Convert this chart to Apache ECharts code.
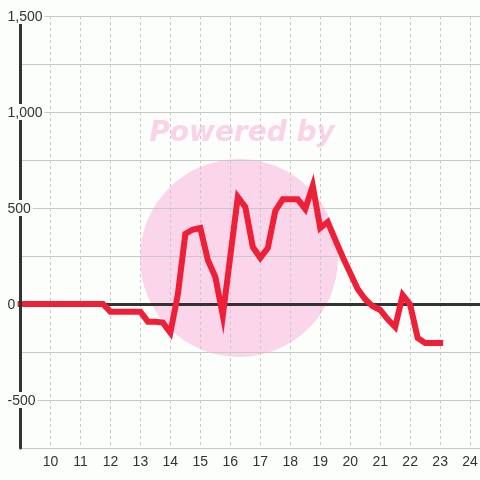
<!DOCTYPE html>
<html>
<head>
<meta charset="utf-8">
<script src="https://cdn.jsdelivr.net/npm/echarts@6/dist/echarts.min.js"></script>
<style>
html,body{margin:0;padding:0;background:#fcfefc;}
#chart{width:480px;height:480px;}
</style>
</head>
<body>
<div id="chart"></div>
<script>
var hours = [9.0, 9.25, 9.5, 9.75, 10.0, 10.25, 10.5, 10.75, 11.0, 11.25, 11.5, 11.75,
  12.0, 12.25, 12.5, 12.75, 13.0, 13.25, 13.5, 13.75, 14.0, 14.25, 14.5, 14.75,
  15.0, 15.25, 15.5, 15.75, 16.0, 16.25, 16.5, 16.75, 17.0, 17.25, 17.5, 17.75,
  18.0, 18.25, 18.5, 18.75, 19.0, 19.25, 19.5, 19.75, 20.0, 20.25, 20.5, 20.75,
  21.0, 21.25, 21.5, 21.75, 22.0, 22.25, 22.5, 22.75, 23.0];
var values = [0, 0, 0, 0, 0, 0, 0, 0, 0, 0, 0, 0,
  -40, -40, -40, -40, -40, -92, -92, -97, -150, 50, 365, 388,
  396, 229, 141, -60, 250, 557, 505, 297, 240, 292, 485, 545,
  545, 545, 495, 615, 396, 427, 335, 245, 161, 78, 25, -12,
  -31, -80, -120, 47, -3, -177, -203, -203, -203];
var xTickLabels = ['10','11','12','13','14','15','16','17','18','19','20','21','22','23','24'];
var yTickLabels = ['1,500','1,000','500','0','-500'];

var xMin = 9, xMax = 24.33, yMin = -750, yMax = 1500;

var data = hours.map(function (h, i) { return [h, values[i]]; });
var bg = '#fcfefc';

var chart = echarts.init(document.getElementById('chart'), null, {renderer: 'canvas'});
chart.setOption({
  backgroundColor: bg,
  animation: false,
  grid: {left: 20.5, right: 0, top: 16, bottom: 32, containLabel: false, outerBoundsMode: 'none'},
  graphic: [
    {type: 'circle', z: -5, shape: {cx: 239, cy: 258, r: 99}, style: {fill: '#fbd5ea'}, silent: true},
    {type: 'text', z: -5, x: 242, y: 134, style: {text: 'Powered by', fill: '#fbd3e9',
      font: 'italic bold 28px "DejaVu Sans", sans-serif', align: 'center', verticalAlign: 'middle'}, silent: true}
  ],
  xAxis: [
    {type: 'value', min: xMin, max: xMax, interval: 1, position: 'bottom',
      axisLine: {show: true, onZero: true, lineStyle: {color: '#333', width: 3}},
      axisTick: {show: false}, axisLabel: {show: false},
      splitLine: {show: true, lineStyle: {color: '#c8c8c8', width: 1, type: [3, 3]}}},
    {type: 'value', min: xMin, max: xMax, interval: 1, position: 'bottom',
      axisLine: {show: true, onZero: false, lineStyle: {color: '#c8c8c8', width: 1}},
      axisTick: {show: false}, splitLine: {show: false},
      axisLabel: {show: true, margin: 7, color: '#333', fontSize: 14, fontFamily: '"Liberation Sans", Arial, sans-serif',
        showMinLabel: true, showMaxLabel: true,
        formatter: function (v) {
          var r = Math.round(v);
          if (Math.abs(v - r) > 1e-6) return '';
          var s = String(r);
          return xTickLabels.indexOf(s) >= 0 ? s : '';
        }}}
  ],
  yAxis: [
    {type: 'value', min: yMin, max: yMax, interval: 250, position: 'left',
      axisLine: {show: false}, axisTick: {show: false}, axisLabel: {show: false},
      splitLine: {show: true, showMinLine: true, showMaxLine: true, lineStyle: {color: '#c8c8c8', width: 1}}},
    {type: 'value', min: yMin, max: yMax, interval: 250, position: 'left', z: 10,
      axisLine: {show: true, onZero: false, lineStyle: {color: '#333', width: 3}},
      axisTick: {show: false}, splitLine: {show: false},
      axisLabel: {show: true, margin: 14, align: 'left',
        formatter: function (v) {
          var s = (v < 0 ? '-' : '') + Math.abs(v).toLocaleString('en-US');
          return yTickLabels.indexOf(s) >= 0 ? '{a|' + s + '}' : '';
        },
        rich: {a: {backgroundColor: bg, padding: [2, 2, 0, 1], color: '#333', fontSize: 14, lineHeight: 14,
          fontFamily: '"Liberation Sans", Arial, sans-serif'}}}}
  ],
  series: [{
    type: 'line', xAxisIndex: 0, yAxisIndex: 0, data: data, z: 5,
    showSymbol: false, symbol: 'none', clip: false,
    lineStyle: {color: '#ee1f36', width: 6, cap: 'square', join: 'miter'}
  }]
});
</script>
</body>
</html>
